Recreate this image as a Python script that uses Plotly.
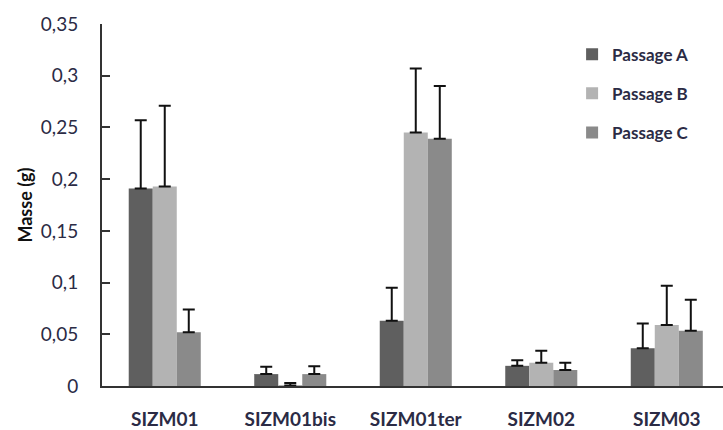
import plotly.graph_objects as go

categories = ["SIZM01", "SIZM01bis", "SIZM01ter", "SIZM02", "SIZM03"]
passage_a = [0.191, 0.0115, 0.063, 0.0195, 0.0365]
passage_b = [0.193, 0.0005, 0.245, 0.0225, 0.059]
passage_c = [0.052, 0.0115, 0.239, 0.0155, 0.0535]
err_a = [0.066, 0.007, 0.032, 0.0055, 0.024]
err_b = [0.078, 0.0025, 0.062, 0.0115, 0.038]
err_c = [0.022, 0.0075, 0.051, 0.007, 0.030]
series_names = ["Passage A", "Passage B", "Passage C"]
colors = ["#5f5f5f", "#b3b3b3", "#8a8a8a"]
yticks = [0, 0.05, 0.1, 0.15, 0.2, 0.25, 0.3, 0.35]
ytick_labels = ["0", "0,05", "0,1", "0,15", "0,2", "0,25", "0,3", "0,35"]

text_color = "#2b2b45"
fig = go.Figure()
for name, vals, errs, col in zip(series_names, [passage_a, passage_b, passage_c],
                                 [err_a, err_b, err_c], colors):
    fig.add_trace(go.Bar(
        x=categories, y=vals, name=name, marker=dict(color=col, line=dict(width=0)),
        legendgroup=name,
        error_y=dict(type="data", symmetric=False, array=errs,
                     arrayminus=[0] * len(errs), color="#111111",
                     thickness=2, width=6),
    ))

fig.update_layout(
    width=723, height=430,
    margin=dict(l=102, r=0, t=24, b=39),
    paper_bgcolor="white", plot_bgcolor="white",
    barmode="group", bargap=0.426, bargroupgap=0,
    font=dict(family="Lato", color=text_color),
    legend=dict(x=0.757, y=0.965, xanchor="left", yanchor="top",
                font=dict(size=17, weight="bold", color=text_color),
                tracegroupgap=14, bgcolor="rgba(0,0,0,0)"),
    xaxis=dict(range=[-0.5, 4.448], showline=True, linecolor="#333333",
               linewidth=2, ticks="", showgrid=False, ticklabelstandoff=15,
               tickfont=dict(size=19, weight="bold", color=text_color)),
    yaxis=dict(range=[0, 0.35], tickvals=yticks, ticktext=ytick_labels,
               showline=True, linecolor="#333333", linewidth=2,
               ticks="inside", ticklen=8, tickwidth=2, tickcolor="#333333",
               showgrid=False, zeroline=False, ticklabelstandoff=18,
               tickfont=dict(size=19, color=text_color),
               title=dict(text="Masse (g)", standoff=4,
                          font=dict(size=18, weight="bold", color="#111111"))),
)

fig.write_html("out.html")
